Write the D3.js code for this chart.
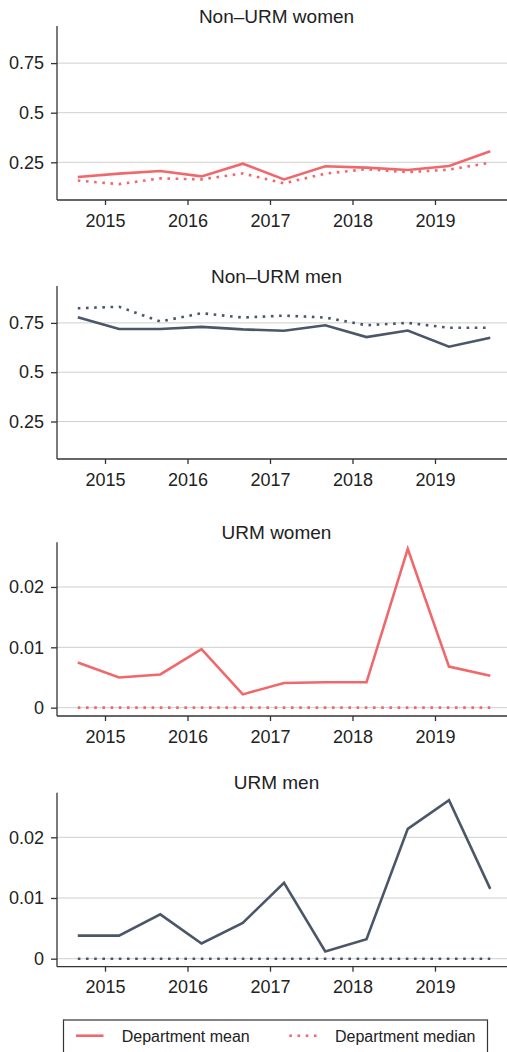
<!DOCTYPE html>
<html><head><meta charset="utf-8">
<script src="https://cdn.jsdelivr.net/npm/d3@7"></script>
<style>
html,body{margin:0;padding:0;background:#fff;}
svg{display:block;}
text{font-family:"Liberation Sans",Arial,Helvetica,sans-serif;fill:#222;}
</style></head>
<body>
<script>
const terms = [2014.67, 2015.17, 2015.67, 2016.17, 2016.67, 2017.17, 2017.67, 2018.17, 2018.67, 2019.17, 2019.67];
const xTicks = [2015, 2016, 2017, 2018, 2019];
const panelTitles = ["Non\u2013URM women", "Non\u2013URM men", "URM women", "URM men"];
const panelGroups = ["women", "men", "women", "men"];
const shareTicks = [0.25, 0.5, 0.75];
const shareTickLabels = ["0.25", "0.5", "0.75"];
const urmTicks = [0, 0.01, 0.02];
const urmTickLabels = ["0", "0.01", "0.02"];

const nonUrmWomenMean   = [0.176, 0.193, 0.206, 0.179, 0.243, 0.164, 0.230, 0.223, 0.211, 0.231, 0.306];
const nonUrmWomenMedian = [0.158, 0.140, 0.169, 0.164, 0.194, 0.144, 0.193, 0.215, 0.200, 0.213, 0.248];
const nonUrmMenMean     = [0.779, 0.719, 0.719, 0.730, 0.717, 0.710, 0.738, 0.678, 0.711, 0.629, 0.675];
const nonUrmMenMedian   = [0.824, 0.832, 0.757, 0.799, 0.777, 0.787, 0.777, 0.738, 0.750, 0.725, 0.725];
const urmWomenMean      = [0.0075, 0.0050, 0.0055, 0.0097, 0.0022, 0.0041, 0.0042, 0.0042, 0.0263, 0.0068, 0.0053];
const urmWomenMedian    = [0, 0, 0, 0, 0, 0, 0, 0, 0, 0, 0];
const urmMenMean        = [0.0038, 0.0038, 0.0073, 0.0025, 0.0059, 0.0125, 0.0012, 0.0032, 0.0214, 0.0261, 0.0115];
const urmMenMedian      = [0, 0, 0, 0, 0, 0, 0, 0, 0, 0, 0];
const legendLabels = ["Department mean", "Department median"];

const W = 507, H = 1052;
const colors = {women: "#f0686c", men: "#4b5768"};
const svg = d3.select("body").append("svg").attr("width", W).attr("height", H);

const panels = [
  {mean: nonUrmWomenMean, median: nonUrmWomenMedian, dom: [0.06, 0.937], ticks: shareTicks, labels: shareTickLabels, top: 26, bottom: 200, titleY: 23},
  {mean: nonUrmMenMean, median: nonUrmMenMedian, dom: [0.06, 0.937], ticks: shareTicks, labels: shareTickLabels, top: 286, bottom: 459, titleY: 283},
  {mean: urmWomenMean, median: urmWomenMedian, dom: [-0.00138, 0.0274], ticks: urmTicks, labels: urmTickLabels, top: 542.3, bottom: 716, titleY: 539},
  {mean: urmMenMean, median: urmMenMedian, dom: [-0.00132, 0.02735], ticks: urmTicks, labels: urmTickLabels, top: 792.7, bottom: 966.7, titleY: 789}
];

const left = 57, right = 507;
const x = d3.scaleLinear().domain([2014.418, 2019.873]).range([left, right]);

panels.forEach((p, k) => {
  const col = colors[panelGroups[k]];
  const y = d3.scaleLinear().domain(p.dom).range([p.bottom, p.top]);
  const g = svg.append("g");
  g.selectAll(".grid").data(p.ticks).enter().append("line")
    .attr("x1", left).attr("x2", right)
    .attr("y1", d => y(d)).attr("y2", d => y(d))
    .attr("stroke", "#cfcfcf").attr("stroke-width", 1);
  const ya = d3.axisLeft(y).tickValues(p.ticks).tickFormat((d, i) => p.labels[i]).tickSize(6).tickPadding(7);
  const yg = g.append("g").attr("transform", `translate(${left},0)`).call(ya);
  yg.select(".domain").remove();
  yg.append("line").attr("x1", 0).attr("x2", 0).attr("y1", p.top).attr("y2", p.bottom).attr("stroke", "#333").attr("stroke-width", 1.3);
  yg.selectAll(".tick line").attr("stroke", "#333").attr("stroke-width", 1.3);
  yg.selectAll(".tick text").attr("font-size", 18).attr("fill", "#222").style("font-family", "Liberation Sans, Arial, sans-serif");
  const xa = d3.axisBottom(x).tickValues(xTicks).tickFormat(d3.format("d")).tickSize(5).tickPadding(9);
  const xg = g.append("g").attr("transform", `translate(0,${p.bottom})`).call(xa);
  xg.select(".domain").remove();
  xg.append("line").attr("x1", left).attr("x2", right).attr("y1", 0).attr("y2", 0).attr("stroke", "#333").attr("stroke-width", 1.3);
  xg.selectAll(".tick line").attr("stroke", "#333").attr("stroke-width", 1.3);
  xg.selectAll(".tick text").attr("font-size", 18).attr("fill", "#222").style("font-family", "Liberation Sans, Arial, sans-serif");
  g.append("text").attr("x", 276.5).attr("y", p.titleY).attr("text-anchor", "middle")
    .attr("font-size", 19).text(panelTitles[k]);
  const line = d3.line().x((d, i) => x(terms[i])).y(d => y(d));
  g.append("path").datum(p.median).attr("d", line).attr("fill", "none")
    .attr("stroke", col).attr("stroke-width", 2.6).attr("stroke-dasharray", "2.6,5.6");
  g.append("path").datum(p.mean).attr("d", line).attr("fill", "none")
    .attr("stroke", col).attr("stroke-width", 2.6).attr("stroke-linejoin", "miter");
});

const lg = svg.append("g");
lg.append("rect").attr("x", 63.5).attr("y", 1020).attr("width", 424).attr("height", 40)
  .attr("fill", "#fff").attr("stroke", "#333").attr("stroke-width", 1.2);
lg.append("line").attr("x1", 76).attr("x2", 103.5).attr("y1", 1035.7).attr("y2", 1035.7)
  .attr("stroke", colors.women).attr("stroke-width", 2.6);
lg.append("text").attr("x", 121.7).attr("y", 1042).attr("font-size", 16).text(legendLabels[0]);
lg.append("line").attr("x1", 289.3).attr("x2", 318).attr("y1", 1035.7).attr("y2", 1035.7)
  .attr("stroke", colors.women).attr("stroke-width", 2.6).attr("stroke-dasharray", "2.6,5.6");
lg.append("text").attr("x", 335).attr("y", 1042).attr("font-size", 16).text(legendLabels[1]);
</script>
</body></html>
